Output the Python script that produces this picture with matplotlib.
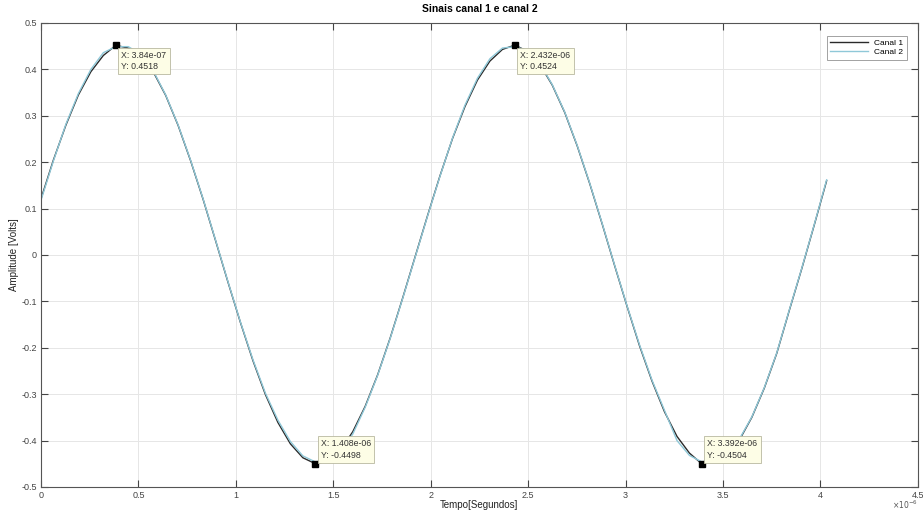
import numpy as np
import matplotlib.pyplot as plt

plt.rcParams['font.family'] = ['Liberation Sans', 'DejaVu Sans']

# sample instants (microseconds, scaled by 1e-6 later)
step = 0.064
tempo_us = [round(k * step, 3) for k in range(64)]

canal1 = [0.121, 0.205, 0.280, 0.345, 0.395, 0.430, 0.4518, 0.446,
          0.430, 0.395, 0.344, 0.279, 0.203, 0.120, 0.031, -0.059,
          -0.146, -0.228, -0.301, -0.361, -0.407, -0.437, -0.4498, -0.444,
          -0.421, -0.381, -0.326, -0.258, -0.179, -0.093, -0.004, 0.085,
          0.171, 0.251, 0.320, 0.377, 0.418, 0.443, 0.4524, 0.439,
          0.411, 0.366, 0.307, 0.235, 0.154, 0.067, -0.023, -0.111,
          -0.196, -0.272, -0.338, -0.391, -0.427, -0.4504, -0.441, -0.432,
          -0.399, -0.350, -0.287, -0.212, -0.120, -0.030, 0.064, 0.160]

canal2 = [0.118, 0.203, 0.282, 0.348, 0.400, 0.436, 0.449, 0.449,
          0.433, 0.397, 0.345, 0.280, 0.204, 0.121, 0.032, -0.058,
          -0.145, -0.226, -0.298, -0.356, -0.402, -0.433, -0.446, -0.442,
          -0.425, -0.386, -0.328, -0.259, -0.180, -0.094, -0.005, 0.084,
          0.170, 0.252, 0.323, 0.381, 0.423, 0.446, 0.449, 0.441,
          0.413, 0.367, 0.308, 0.236, 0.155, 0.068, -0.022, -0.110,
          -0.194, -0.270, -0.335, -0.400, -0.432, -0.446, -0.439, -0.428,
          -0.397, -0.349, -0.286, -0.211, -0.119, -0.029, 0.065, 0.162]

# data tips: index into the sample arrays
tips = [6, 22, 38, 53]

t = np.array(tempo_us) * 1e-6

fig = plt.figure(figsize=(9.23, 5.11), dpi=100)
ax = fig.add_axes([0.0444, 0.047, 0.950, 0.908])

ax.plot(t, canal1, color='#2a2a2a', lw=1.0, label='Canal 1')
ax.plot(t, canal2, color='#8fc8d8', lw=1.0, label='Canal 2')

ax.set_xlim(0, 4.5e-6)
ax.set_ylim(-0.5, 0.5)
xt = np.arange(0, 4.51, 0.5)
ax.set_xticks(xt * 1e-6)
ax.set_xticklabels(['0', '0.5', '1', '1.5', '2', '2.5', '3', '3.5', '4', '4.5'])
yt = np.round(np.arange(-0.5, 0.51, 0.1), 1)
ax.set_yticks(yt)
ax.set_yticklabels(['0' if v == 0 else f'{v:g}' for v in yt])

ax.grid(True, color='#e6e6e6', lw=0.7)
ax.set_axisbelow(True)
ax.tick_params(direction='in', length=5, width=0.8, colors='#444444',
               labelsize=6.5, top=True, right=True, labelcolor='#444444', pad=3)
for s in ax.spines.values():
    s.set_color('#555555')
    s.set_linewidth(0.8)

ax.set_title('Sinais canal 1 e canal 2', fontsize=7.5, fontweight='bold', pad=8)
ax.set_xlabel('Tempo[Segundos]', fontsize=7, labelpad=0, color='#222222')
ax.set_ylabel('Amplitude [Volts]', fontsize=7, labelpad=2, color='#222222')
ax.text(1.0, -0.026, r'$\times10^{-6}$', transform=ax.transAxes,
        fontsize=5.5, ha='right', va='top', color='#555555')

for i in tips:
    x, y = t[i], canal1[i]
    ax.plot(x, y, 's', color='black', ms=4, zorder=5)
    if y > 0:
        off, va = (4, -4), 'top'
    else:
        off, va = (4, 3), 'bottom'
    ax.annotate(f'X: {tempo_us[i] * 1e-6:.4g}\nY: {y:.4f}', (x, y),
                xytext=off, textcoords='offset points',
                ha='left', va=va, fontsize=6.3, linespacing=1.35,
                color='#333333',
                bbox=dict(boxstyle='square,pad=0.35', fc='#fdfde6',
                          ec='#b8b8a0', lw=0.6), zorder=6)

leg = ax.legend(loc='upper right', fontsize=6, frameon=True, fancybox=False,
                handlelength=4.5, borderpad=0.4, labelspacing=0.2,
                bbox_to_anchor=(0.992, 0.982))
leg.get_frame().set_edgecolor('#777777')
leg.get_frame().set_linewidth(0.6)

fig.savefig('out.png', dpi=100)
